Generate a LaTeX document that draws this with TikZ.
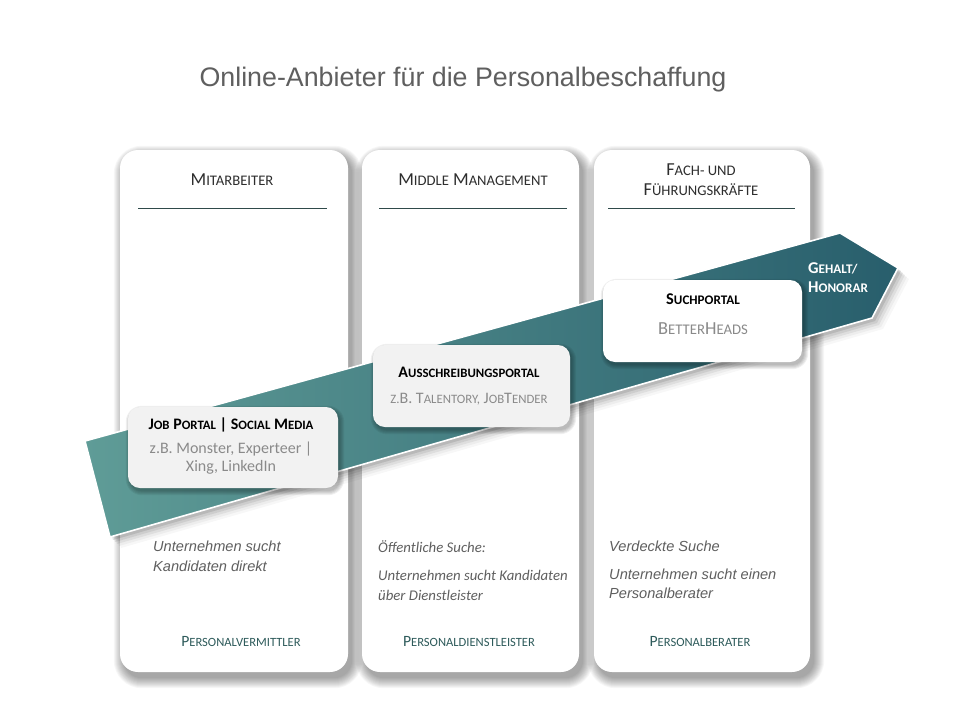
\documentclass[tikz,border=0pt]{standalone}
\usepackage{fontspec}
\setmainfont{Carlito}
\newfontfamily\arial{Liberation Sans}
\usepackage{graphicx}
\usetikzlibrary{backgrounds}
\pgfdeclarelayer{boxshadow}
\pgfdeclarelayer{front}
\pgfsetlayers{background,main,boxshadow,front}
\newcommand\lc[1]{\scalebox{0.8}{#1}}
\definecolor{tealA}{HTML}{5F9C97}
\definecolor{tealB}{HTML}{3F7F82}
\definecolor{tealC}{HTML}{285E6C}
\definecolor{hdr}{HTML}{2E2E2E}
\definecolor{rulec}{HTML}{2F4A4A}
\definecolor{foot}{HTML}{2E5B5B}
\definecolor{grey}{HTML}{8A8A8A}
\definecolor{itc}{HTML}{5F5F5F}
\definecolor{boxfill}{HTML}{F2F2F2}
% node, radius, dx, dy, steps, opacity
\newcommand\softshadow[6]{%
  \foreach \k in {0,...,#5}{%
    \pgfmathsetmacro\rr{#2+\k}%
    \fill[black,opacity=#6,rounded corners=\rr pt]
      ([shift={(#3-\k,#4-\k)}]#1.north west) rectangle ([shift={(#3+\k,#4+\k)}]#1.south east);
  }}
\tikzset{
  card/.style={fill=white,rounded corners=18pt,inner sep=0pt,minimum height=522pt},
  pbox/.style={fill=boxfill,rounded corners=12pt,inner sep=0pt,minimum height=81pt},
  hdrtxt/.style={text=hdr,font=\fontsize{18.3}{21}\selectfont,align=center},
  boxhead/.style={text=black,font=\bfseries\fontsize{16}{19}\selectfont},
  boxsub/.style={text=grey,font=\fontsize{16}{19}\selectfont},
  ittxt/.style={text=itc,font=\arial\itshape\fontsize{14.6}{17}\selectfont,anchor=base west,inner sep=0pt},
  itcal/.style={text=itc,font=\itshape\fontsize{14.8}{17}\selectfont,anchor=base west,inner sep=0pt},
  foottxt/.style={text=foot,font=\fontsize{15.7}{18}\selectfont},
  arrowtxt/.style={text=white,font=\bfseries\fontsize{16.5}{19}\selectfont,anchor=west,inner sep=0pt},
  hrule/.style={draw=rulec,line width=0.8pt}
}
\begin{document}
\begin{tikzpicture}[x=1pt,y=-1pt]
\useasboundingbox (0,0) rectangle (960,720);
\begin{scope}[on background layer]
\fill[white] (0,0) rectangle (960,720);
\end{scope}

% title
\node[font=\arial\fontsize{26.8}{30}\selectfont,text=itc] (title) at (463,80) {Online-Anbieter für die Personalbeschaffung};

% cards
\node[card,minimum width=228pt] (c1) at (234,411) {};
\node[card,minimum width=217pt] (c2) at (470.5,411) {};
\node[card,minimum width=216pt] (c3) at (702,411) {};
\begin{scope}[on background layer]
  \softshadow{c1}{18}{4}{6}{10}{0.035}
  \softshadow{c2}{18}{4}{6}{10}{0.035}
  \softshadow{c3}{18}{4}{6}{10}{0.035}
\end{scope}

% headers
\node[hdrtxt] (h1) at (232,180) {M\lc{ITARBEITER}};
\node[hdrtxt] (h2) at (473,180) {M\lc{IDDLE} M\lc{ANAGEMENT}};
\node[hdrtxt] (h3a) at (701,170) {F\lc{ACH- UND}};
\node[hdrtxt] (h3b) at (701,190) {F\lc{ÜHRUNGSKRÄFTE}};
\draw[hrule] (138,208) -- (327,208);
\draw[hrule] (379,208) -- (567,208);
\draw[hrule] (608,208) -- (795,208);

% arrow
\coordinate (a1) at (85,441);
\coordinate (a2) at (840,233);
\coordinate (a3) at (898,268);
\coordinate (a4) at (872,318);
\coordinate (a5) at (110,537);
\foreach \s/\o in {3/0.10,5/0.08,7/0.06,9/0.04,11/0.03}{
  \fill[black,opacity=\o] ([shift={(\s,\s)}]a1) -- ([shift={(\s,\s)}]a2) -- ([shift={(\s,\s)}]a3)
     -- ([shift={(\s,\s)}]a4) -- ([shift={(\s,\s)}]a5) -- cycle;
}
\draw[white,line width=1.6pt,left color=tealA,middle color=tealB,right color=tealC,line join=miter]
  (a1) -- (a2) -- (a3) -- (a4) -- (a5) -- cycle;
\node[arrowtxt] (g1) at (808,268) {G\lc{EHALT/}};
\node[arrowtxt] (g2) at (808,287) {H\lc{ONORAR}};

% boxes on arrow
\begin{pgfonlayer}{front}
\node[pbox,minimum width=210pt] (b1) at (233,447.5) {};
\node[pbox,minimum width=197pt,minimum height=82pt] (b2) at (471.5,386) {};
\node[pbox,minimum width=199pt,minimum height=82pt,fill=white] (b3) at (702.5,321) {};
\node[boxhead] (b1t) at (231,425) {J\lc{OB} P\lc{ORTAL} | S\lc{OCIAL} M\lc{EDIA}};
\node[boxsub] (b1s) at (231,449) {z.B. Monster, Experteer |};
\node[boxsub] (b1u) at (231,467) {Xing, LinkedIn};
\node[boxhead] (b2t) at (469,372) {A\lc{USSCHREIBUNGSPORTAL}};
\node[boxsub] (b2s) at (469,399) {\lc{Z.}B. T\lc{ALENTORY,} J\lc{OB}T\lc{ENDER}};
\node[boxhead,font=\bfseries\fontsize{16.4}{19}\selectfont] (b3t) at (703,299) {S\lc{UCHPORTAL}};
\node[boxsub,font=\fontsize{18.4}{21}\selectfont] (b3s) at (703,329) {B\lc{ETTER}H\lc{EADS}};
\end{pgfonlayer}
\begin{pgfonlayer}{boxshadow}
  \softshadow{b1}{12}{2}{3}{4}{0.06}
  \softshadow{b2}{12}{2}{3}{4}{0.06}
  \softshadow{b3}{12}{2}{3}{4}{0.06}
\end{pgfonlayer}

% lower texts
\node[ittxt] (t1a) at (153,551) {Unternehmen sucht};
\node[ittxt] (t1b) at (153,571) {Kandidaten direkt};
\node[itcal] (t2a) at (378,552) {Öffentliche Suche:};
\node[itcal] (t2b) at (378,580) {Unternehmen sucht Kandidaten};
\node[itcal] (t2c) at (378,600) {über Dienstleister};
\node[ittxt] (t3a) at (609,551) {Verdeckte Suche};
\node[ittxt] (t3b) at (609,579) {Unternehmen sucht einen};
\node[ittxt] (t3c) at (609,598) {Personalberater};

\node[foottxt] (f1) at (241,641) {P\lc{ERSONALVERMITTLER}};
\node[foottxt] (f2) at (469,641) {P\lc{ERSONALDIENSTLEISTER}};
\node[foottxt] (f3) at (700,641) {P\lc{ERSONALBERATER}};
\end{tikzpicture}
\end{document}
